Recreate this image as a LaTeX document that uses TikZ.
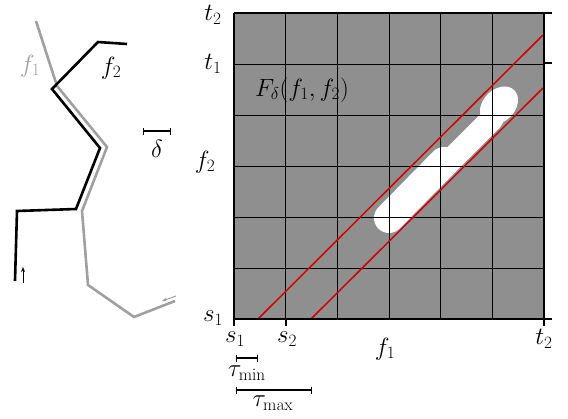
\documentclass[tikz,border=0pt]{standalone}
\usepackage{amsmath}
\usetikzlibrary{arrows.meta}
\definecolor{cellgray}{RGB}{143,143,143}
\definecolor{curvegray}{RGB}{160,160,160}
\definecolor{redline}{RGB}{210,0,0}
\tikzset{
  lbl/.style={inner sep=0pt, font=\fontsize{25}{30}\selectfont},
  curveA/.style={draw=curvegray, line width=2.6pt, line join=miter},
  curveB/.style={draw=black, line width=2.6pt, line join=miter},
  gridln/.style={draw=black, line width=0.8pt},
  axisln/.style={draw=black, line width=1.6pt},
  redln/.style={draw=redline, line width=1.5pt},
  blobstroke/.style={draw=white, line cap=round},
  measure/.style={draw=black, line width=1.4pt, {Bar[width=7pt]}-{Bar[width=7pt]}},
}
\begin{document}
\begin{tikzpicture}[x=1pt,y=-1pt]
\useasboundingbox (0,0) rectangle (568,418);
% left curves
\draw[curveA] (36,21) -- (57,86) -- (107,147) -- (82,211) -- (88,285) -- (134,317) -- (175,301);
\draw[curveB] (127,44) -- (98,42) -- (52,89) -- (100,148) -- (76,209) -- (17,211) -- (15,281);
\coordinate (ba1) at (23,283); \coordinate (ba2) at (23,267);
\draw[line width=1pt, -{Stealth[length=5pt,width=4pt]}] (ba1) -- (ba2);
\coordinate (ga1) at (176,296); \coordinate (ga2) at (162,301);
\draw[curvegray, line width=1pt, -{Stealth[length=5pt,width=4pt]}] (ga1) -- (ga2);
\node[lbl, text=curvegray] (lf1) at (30,66) {$f_1$};
\node[lbl] (lf2) at (111,68) {$f_2$};
\coordinate (d1) at (143,131); \coordinate (d2) at (171,131);
\draw[measure] (d1) -- (d2);
\node[lbl] (ldelta) at (157,149) {$\delta$};
% free space diagram
\fill[cellgray] (234,13) rectangle (544,319);
% white free space
\draw[blobstroke, line width=30pt] (389,218) -- (444,162);
\draw[blobstroke, line width=23pt] (410,201) -- (492,119);
\fill[white] (499,105.5) ellipse [x radius=21.6, y radius=16, rotate=45];
\foreach \i in {1,...,5} {
  \draw[gridln] ({234+\i*310/6},13) -- ({234+\i*310/6},319);
  \draw[gridln] (234,{13+\i*306/6}) -- (544,{13+\i*306/6});
}
\coordinate (r1a) at (258,319); \coordinate (r1b) at (543,35);
\coordinate (r2a) at (311,319); \coordinate (r2b) at (543,88);
\draw[redln] (r1a) -- (r1b);
\draw[redln] (r2a) -- (r2b);
\draw[axisln] (234,13) -- (544,13);
\draw[axisln] (544,13) -- (544,326);
\draw[axisln] (234,13) -- (234,326);
\draw[axisln] (234,319) -- (552,319);
\draw[axisln] (286,319) -- (286,326);
\draw[axisln] (544,13) -- (552,13);
\draw[axisln] (544,63) -- (552,63);
\node[lbl, font=\fontsize{27}{32}\selectfont] (lF) at (302,90) {$F_\delta(f_1,f_2)$};
% axis labels
\node[lbl] (yt2) at (213,15) {$t_2$};
\node[lbl] (yt1) at (213,64) {$t_1$};
\node[lbl] (yf2) at (205,162) {$f_2$};
\node[lbl] (ys1) at (213,318) {$s_1$};
\node[lbl] (xs1) at (235,339) {$s_1$};
\node[lbl] (xs2) at (287,339) {$s_2$};
\node[lbl] (xf1) at (385,349) {$f_1$};
\node[lbl] (xt2) at (544,339) {$t_2$};
\coordinate (m1a) at (236,358); \coordinate (m1b) at (258,358);
\draw[measure] (m1a) -- (m1b);
\node[lbl] (ltmin) at (247,373) {$\tau_{\min}$};
\coordinate (m2a) at (236,390); \coordinate (m2b) at (312,390);
\draw[measure] (m2a) -- (m2b);
\node[lbl] (ltmax) at (273,403) {$\tau_{\max}$};
\end{tikzpicture}
\end{document}
